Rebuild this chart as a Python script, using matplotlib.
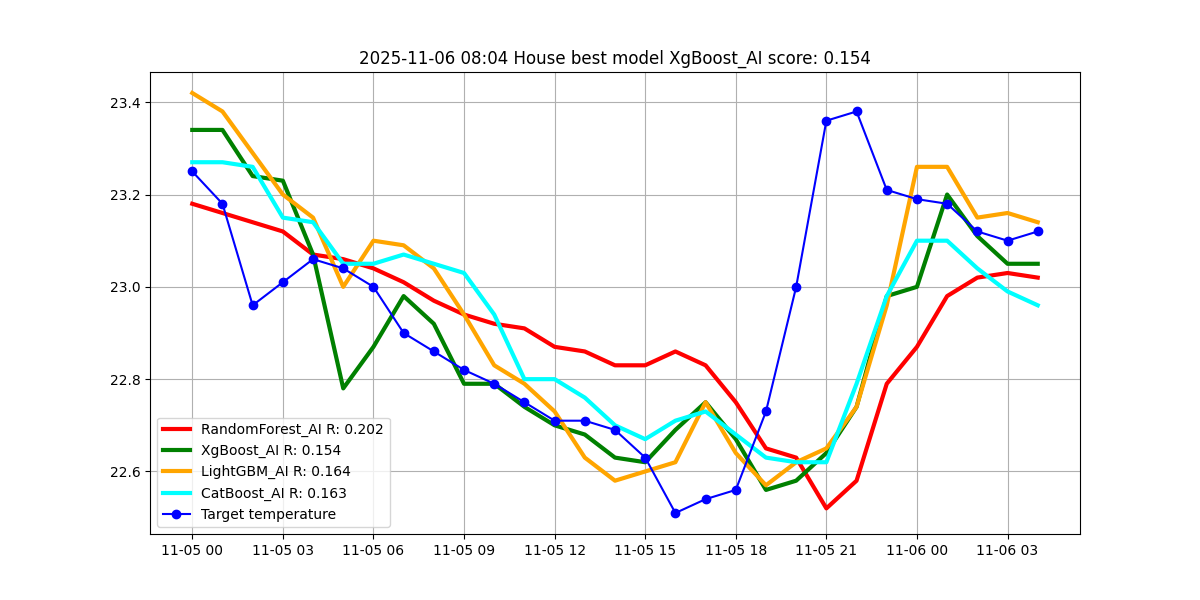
import matplotlib
matplotlib.use("Agg")
import matplotlib.pyplot as plt
import matplotlib.dates as mdates
import pandas as pd

times = pd.date_range("2025-11-05 00:00", periods=29, freq="h")

target = [23.25, 23.18, 22.96, 23.01, 23.06, 23.04, 23.00, 22.90, 22.86, 22.82,
          22.79, 22.75, 22.71, 22.71, 22.69, 22.63, 22.51, 22.54, 22.56, 22.73,
          23.00, 23.36, 23.38, 23.21, 23.19, 23.18, 23.12, 23.10, 23.12]
random_forest = [23.18, 23.16, 23.14, 23.12, 23.07, 23.06, 23.04, 23.01, 22.97, 22.94,
                 22.92, 22.91, 22.87, 22.86, 22.83, 22.83, 22.86, 22.83, 22.75, 22.65,
                 22.63, 22.52, 22.58, 22.79, 22.87, 22.98, 23.02, 23.03, 23.02]
xgboost = [23.34, 23.34, 23.24, 23.23, 23.07, 22.78, 22.87, 22.98, 22.92, 22.79,
           22.79, 22.74, 22.70, 22.68, 22.63, 22.62, 22.69, 22.75, 22.67, 22.56,
           22.58, 22.64, 22.74, 22.98, 23.00, 23.20, 23.11, 23.05, 23.05]
lightgbm = [23.42, 23.38, 23.29, 23.20, 23.15, 23.00, 23.10, 23.09, 23.04, 22.94,
            22.83, 22.79, 22.73, 22.63, 22.58, 22.60, 22.62, 22.75, 22.64, 22.57,
            22.62, 22.65, 22.74, 22.96, 23.26, 23.26, 23.15, 23.16, 23.14]
catboost = [23.27, 23.27, 23.26, 23.15, 23.14, 23.05, 23.05, 23.07, 23.05, 23.03,
            22.94, 22.80, 22.80, 22.76, 22.70, 22.67, 22.71, 22.73, 22.68, 22.63,
            22.62, 22.62, 22.79, 22.98, 23.10, 23.10, 23.04, 22.99, 22.96]

fig, ax = plt.subplots(figsize=(12, 6), dpi=100)

ax.plot(times, random_forest, color="red", linewidth=3, label="RandomForest_AI R: 0.202")
ax.plot(times, xgboost, color="green", linewidth=3, label="XgBoost_AI R: 0.154")
ax.plot(times, lightgbm, color="orange", linewidth=3, label="LightGBM_AI R: 0.164")
ax.plot(times, catboost, color="cyan", linewidth=3, label="CatBoost_AI R: 0.163")
ax.plot(times, target, color="blue", marker="o", label="Target temperature")

ax.xaxis.set_major_locator(mdates.HourLocator(interval=3))
ax.xaxis.set_major_formatter(mdates.DateFormatter("%m-%d %H"))
ax.grid(True)
ax.legend(loc="lower left")
ax.set_title("2025-11-06 08:04 House best model XgBoost_AI score: 0.154")

fig.savefig("out.png")
